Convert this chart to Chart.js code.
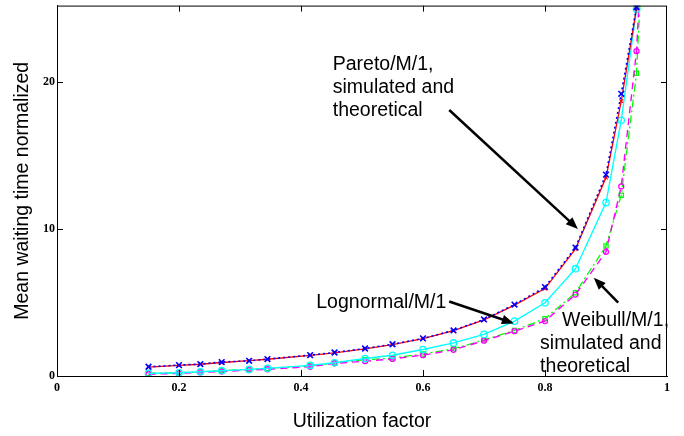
<!DOCTYPE html>
<html>
<head>
<meta charset="utf-8">
<script src="https://cdn.jsdelivr.net/npm/chart.js@4.4.0/dist/chart.umd.min.js"></script>
<style>
  html, body { margin: 0; padding: 0; background: #fff; }
  #wrap { width: 684px; height: 436px; }
</style>
</head>
<body>
<div id="wrap"><canvas id="waitChart" width="684" height="436"></canvas></div>
<script>
// utilization factor values where the queues were evaluated
const utilization = [0.15, 0.2, 0.235, 0.27, 0.315, 0.345, 0.415, 0.455, 0.505, 0.55,
    0.6, 0.65, 0.7, 0.75, 0.8, 0.85, 0.9, 0.925, 0.95];
const weibullUtilization = [0.15, 0.2, 0.235, 0.27, 0.315, 0.345, 0.415, 0.455, 0.505, 0.55,
    0.6, 0.65, 0.7, 0.75, 0.8, 0.85, 0.9, 0.925, 0.95, 0.96];

// mean waiting time (normalized)
const paretoSim = [0.63, 0.74, 0.81, 0.95, 1.03, 1.15, 1.42, 1.6, 1.87, 2.16,
    2.56, 3.1, 3.85, 4.86, 6.05, 8.74, 13.7, 19.2, 25.1];
const paretoTheory = [0.6, 0.72, 0.8, 0.92, 1.04, 1.14, 1.4, 1.58, 1.85, 2.14,
    2.54, 3.08, 3.82, 4.82, 5.95, 8.65, 13.5, 18.7, 25.0];
const lognormal = [0.18, 0.22, 0.29, 0.36, 0.45, 0.52, 0.72, 0.9, 1.19, 1.41,
    1.8, 2.25, 2.83, 3.73, 4.98, 7.3, 11.8, 17.4, 24.95];
const weibullSim = [0.18, 0.22, 0.28, 0.36, 0.45, 0.52, 0.68, 0.9, 1.1, 1.22,
    1.5, 1.85, 2.45, 3.1, 3.9, 5.66, 8.85, 12.3, 20.6, 29];
const weibullTheory = [0.12, 0.18, 0.24, 0.3, 0.4, 0.46, 0.63, 0.86, 1.01, 1.16,
    1.42, 1.78, 2.4, 3.05, 3.74, 5.54, 8.45, 12.9, 22.1, 30];

const xTicks = [0, 0.2, 0.4, 0.6, 0.8, 1];
const yTicks = [0, 10, 20];
const xRange = [0, 1];
const yRange = [0, 25.2];

// text callouts, anchored in data units: [x, y] of the text and the arrow ends
const callouts = [
    { lines: ['Pareto/M/1,', 'simulated and', 'theoretical'], at: [0.452, 21.2], indent: [0, 0, 0],
      arrow: [[0.643, 18.1], [0.854, 10.0]] },
    { lines: ['Lognormal/M/1'], at: [0.425, 5.0], indent: [0],
      arrow: [[0.643, 5.07], [0.749, 3.58]] },
    { lines: ['Weibull/M/1,', 'simulated and', 'theoretical'], at: [0.792, 3.78], indent: [22, 0, 0],
      arrow: [[0.92, 5.0], [0.880, 6.69]] }
];

const pairs = (xs, ys) => ys.map((y, i) => ({ x: xs[i], y }));

const TEXT_FONT = '19.5px "Liberation Sans", Arial, sans-serif';

const annotate = {
    id: 'annotate',
    afterDraw(chart) {
        const { ctx, chartArea: a, scales: { x, y } } = chart;
        ctx.save();

        // box outline and inward tick marks
        ctx.strokeStyle = '#000';
        ctx.lineWidth = 1;
        ctx.strokeRect(a.left + 0.5, a.top + 0.5, a.right - a.left - 1, a.bottom - a.top);
        ctx.beginPath();
        xTicks.slice(1, -1).forEach(v => {
            const px = Math.round(x.getPixelForValue(v)) + 0.5;
            ctx.moveTo(px, a.bottom); ctx.lineTo(px, a.bottom - 6);
            ctx.moveTo(px, a.top); ctx.lineTo(px, a.top + 6);
        });
        yTicks.slice(1).forEach(v => {
            const py = Math.round(y.getPixelForValue(v)) + 0.5;
            ctx.moveTo(a.left, py); ctx.lineTo(a.left + 6, py);
            ctx.moveTo(a.right, py); ctx.lineTo(a.right - 6, py);
        });
        ctx.stroke();

        // callout text and arrows
        ctx.fillStyle = '#000';
        ctx.font = TEXT_FONT;
        ctx.textBaseline = 'middle';
        ctx.textAlign = 'left';
        callouts.forEach(c => {
            const tx = x.getPixelForValue(c.at[0]);
            const ty = y.getPixelForValue(c.at[1]);
            c.lines.forEach((t, i) => ctx.fillText(t, tx + c.indent[i], ty + i * 23));

            const x0 = x.getPixelForValue(c.arrow[0][0]), y0 = y.getPixelForValue(c.arrow[0][1]);
            const x1 = x.getPixelForValue(c.arrow[1][0]), y1 = y.getPixelForValue(c.arrow[1][1]);
            const ang = Math.atan2(y1 - y0, x1 - x0);
            const head = 13;
            ctx.lineWidth = 2.5;
            ctx.beginPath();
            ctx.moveTo(x0, y0);
            ctx.lineTo(x1 - Math.cos(ang) * head * 0.8, y1 - Math.sin(ang) * head * 0.8);
            ctx.stroke();
            ctx.beginPath();
            ctx.moveTo(x1, y1);
            ctx.lineTo(x1 - head * Math.cos(ang - 0.38), y1 - head * Math.sin(ang - 0.38));
            ctx.lineTo(x1 - head * Math.cos(ang + 0.38), y1 - head * Math.sin(ang + 0.38));
            ctx.closePath();
            ctx.fill();
        });
        ctx.restore();
    }
};

const tickFont = { family: '"Liberation Serif", "Times New Roman", serif', size: 12, weight: 'bold' };
const titleFont = { family: '"Liberation Sans", Arial, sans-serif', size: 19.5 };

new Chart(document.getElementById('waitChart'), {
    type: 'line',
    data: {
        datasets: [
            { data: pairs(utilization, paretoSim), borderColor: '#0000ff', borderWidth: 1.6, borderDash: [2, 3],
              pointStyle: 'crossRot', pointRadius: 4, pointBorderWidth: 1.6, pointBorderColor: '#0000ff', order: 1 },
            { data: pairs(utilization, paretoTheory), borderColor: '#ff0000', borderWidth: 1.3,
              pointStyle: 'crossRot', pointRadius: 2.5, pointBorderWidth: 1.2, pointBorderColor: '#ff0000', order: 2 },
            { data: pairs(utilization, lognormal), borderColor: '#00ffff', borderWidth: 1.4,
              pointStyle: 'circle', pointRadius: 3.2, pointBorderWidth: 1.3, pointBackgroundColor: 'rgba(0,0,0,0)', order: 3 },
            { data: pairs(weibullUtilization, weibullTheory), borderColor: '#ff00ff', borderWidth: 1.4, borderDash: [7, 5],
              pointStyle: 'circle', pointRadius: 2.5, pointBorderWidth: 1.3, pointBackgroundColor: 'rgba(0,0,0,0)', order: 4 },
            { data: pairs(weibullUtilization, weibullSim), borderColor: '#00ff00', borderWidth: 1.3, borderDash: [8, 3, 2, 3],
              pointStyle: 'rect', pointRadius: 3, pointBorderWidth: 1.2, pointBackgroundColor: 'rgba(0,0,0,0)', order: 5 }
        ]
    },
    options: {
        responsive: false,
        animation: false,
        clip: 0,
        layout: { padding: { top: 3, right: 17, left: 0, bottom: 0 } },
        elements: { line: { tension: 0, fill: false } },
        plugins: { legend: { display: false }, tooltip: { enabled: false } },
        scales: {
            x: {
                type: 'linear', min: xRange[0], max: xRange[1],
                afterBuildTicks: s => { s.ticks = xTicks.map(v => ({ value: v })); },
                afterFit: s => { s.height = 60; s.paddingLeft = 0; s.paddingRight = 0; },
                grid: { display: false, drawTicks: false },
                border: { display: true, color: '#000', width: 1 },
                ticks: { color: '#000', font: tickFont, padding: 5, maxRotation: 0,
                         callback: v => String(v) },
                title: { display: true, text: 'Utilization factor', color: '#000', font: titleFont,
                         padding: { top: 0, bottom: 3 } }
            },
            y: {
                type: 'linear', min: yRange[0], max: yRange[1],
                afterBuildTicks: s => { s.ticks = yTicks.map(v => ({ value: v })); },
                afterFit: s => { s.width = 57; s.paddingTop = 0; s.paddingBottom = 0; },
                grid: { display: false, drawTicks: false },
                border: { display: true, color: '#000', width: 1 },
                ticks: { color: '#000', font: tickFont, padding: 2, callback: v => String(v) },
                title: { display: true, text: 'Mean waiting time normalized', color: '#000', font: titleFont,
                         padding: { top: 11, bottom: 0 } }
            }
        }
    },
    plugins: [annotate]
});
</script>
</body>
</html>
